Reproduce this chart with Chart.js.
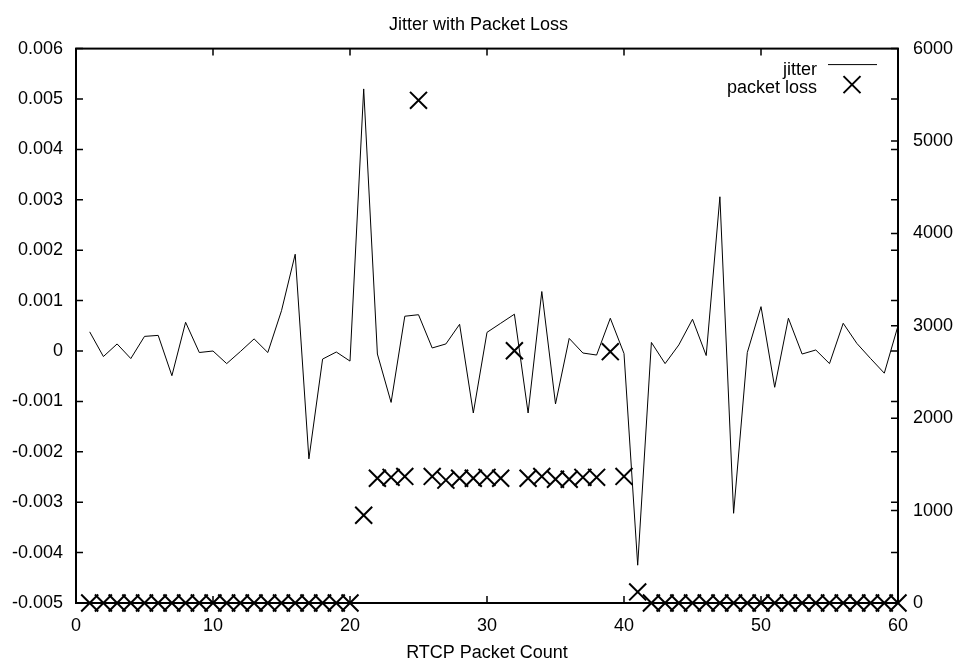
<!DOCTYPE html>
<html>
<head>
<meta charset="utf-8">
<title>Jitter with Packet Loss</title>
<script src="https://cdn.jsdelivr.net/npm/chart.js@4.4.1/dist/chart.umd.min.js"></script>
<style>
  body { margin: 0; background: #fff; }
  #wrap { width: 957px; height: 660px; position: relative; }
</style>
</head>
<body>
<div id="wrap"><canvas id="myChart"></canvas></div>
<script>
var counts = [1, 2, 3, 4, 5, 6, 7, 8, 9, 10,
  11, 12, 13, 14, 15, 16, 17, 18, 19, 20,
  21, 22, 23, 24, 25, 26, 27, 28, 29, 30,
  31, 32, 33, 34, 35, 36, 37, 38, 39, 40,
  41, 42, 43, 44, 45, 46, 47, 48, 49, 50,
  51, 52, 53, 54, 55, 56, 57, 58, 59, 60];

var jitter = [0.00038, -0.00011, 0.00014, -0.00015, 0.00029, 0.00031, -0.00049, 0.00057, -0.00003, 0.00000,
  -0.00025, -0.00001, 0.00024, -0.00003, 0.00080, 0.00192, -0.00214, -0.00016, -0.00002, -0.00020,
  0.00520, -0.00006, -0.00102, 0.00069, 0.00072, 0.00006, 0.00014, 0.00053, -0.00123, 0.00037,
  0.00055, 0.00073, -0.00123, 0.00118, -0.00105, 0.00025, -0.00004, -0.00008, 0.00065, -0.00005,
  -0.00425, 0.00017, -0.00025, 0.00012, 0.00063, -0.00009, 0.00306, -0.00322, -0.00003, 0.00088,
  -0.00072, 0.00065, -0.00006, 0.00002, -0.00025, 0.00055, 0.00015, -0.00015, -0.00044, 0.00050];

var packetLoss = [0, 0, 0, 0, 0, 0, 0, 0, 0, 0,
  0, 0, 0, 0, 0, 0, 0, 0, 0, 0,
  950, 1350, 1360, 1370, 5440, 1370, 1330, 1350, 1350, 1360,
  1350, 2730, 1350, 1370, 1340, 1340, 1360, 1360, 2720, 1370,
  120, 0, 0, 0, 0, 0, 0, 0, 0, 0,
  0, 0, 0, 0, 0, 0, 0, 0, 0, 0];

var labelFont = '"Liberation Sans", Arial, Helvetica, sans-serif';
Chart.defaults.font.family = labelFont;
Chart.defaults.font.size = 18;
Chart.defaults.color = '#000';

function points(ys) {
  var out = [];
  for (var i = 0; i < counts.length; i++) {
    out.push({ x: counts[i], y: ys[i] });
  }
  return out;
}

// gnuplot look: frame, inward ticks (mirrored), key in the top right corner
var gnuplotFrame = {
  id: 'gnuplotFrame',
  afterDatasetsDraw: function (chart) {
    var ctx = chart.ctx;
    var a = chart.chartArea;
    var sx = chart.scales.x, sy = chart.scales.y, sy2 = chart.scales.y2;
    var len = 7;
    ctx.save();
    ctx.strokeStyle = '#000';
    ctx.lineWidth = 1.5;
    ctx.beginPath();
    sx.ticks.forEach(function (t) {
      var px = sx.getPixelForValue(t.value);
      ctx.moveTo(px, a.bottom); ctx.lineTo(px, a.bottom - len);
      ctx.moveTo(px, a.top); ctx.lineTo(px, a.top + len);
    });
    sy.ticks.forEach(function (t) {
      var py = sy.getPixelForValue(t.value);
      ctx.moveTo(a.left, py); ctx.lineTo(a.left + len, py);
      ctx.moveTo(a.right, py); ctx.lineTo(a.right - len, py);
    });
    sy2.ticks.forEach(function (t) {
      var py = sy2.getPixelForValue(t.value);
      ctx.moveTo(a.right, py); ctx.lineTo(a.right - len, py);
    });
    ctx.stroke();
    ctx.lineWidth = 2;
    ctx.strokeRect(a.left, a.top, a.right - a.left, a.bottom - a.top);

    // key
    var textRight = a.right - 81;
    ctx.font = '18px ' + labelFont;
    ctx.fillStyle = '#000';
    ctx.textAlign = 'right';
    ctx.textBaseline = 'alphabetic';
    ctx.fillText(chart.data.datasets[1].label, textRight, a.top + 26);
    ctx.fillText(chart.data.datasets[0].label, textRight, a.top + 44);
    ctx.lineWidth = 1;
    ctx.beginPath();
    ctx.moveTo(a.right - 70, a.top + 16);
    ctx.lineTo(a.right - 21, a.top + 16);
    ctx.stroke();
    var cx = a.right - 46, cy = a.top + 36, h = 8.5;
    ctx.lineWidth = 2;
    ctx.beginPath();
    ctx.moveTo(cx - h, cy - h); ctx.lineTo(cx + h, cy + h);
    ctx.moveTo(cx + h, cy - h); ctx.lineTo(cx - h, cy + h);
    ctx.stroke();
    ctx.restore();
  }
};

var config = {
  type: 'line',
  data: {
    datasets: [{
      label: 'packet loss',
      data: points(packetLoss),
      yAxisID: 'y2',
      showLine: false,
      pointStyle: 'crossRot',
      pointRadius: 12,
      pointBorderWidth: 2,
      borderColor: '#000',
      backgroundColor: '#000',
      clip: false
    }, {
      label: 'jitter',
      data: points(jitter),
      yAxisID: 'y',
      borderColor: '#000',
      borderWidth: 1,
      pointRadius: 0,
      tension: 0,
      fill: false
    }]
  },
  options: {
    responsive: true,
    maintainAspectRatio: false,
    animation: false,
    events: [],
    layout: { padding: 0 },
    plugins: {
      legend: { display: false },
      tooltip: { enabled: false },
      title: {
        display: true,
        text: 'Jitter with Packet Loss',
        color: '#000',
        font: { size: 18, weight: 'normal' },
        padding: { top: 14, bottom: 13 }
      }
    },
    scales: {
      x: {
        type: 'linear',
        min: 0,
        max: 60,
        grid: { display: false, drawTicks: false },
        border: { display: false },
        ticks: { stepSize: 10, padding: 12 },
        title: {
          display: true,
          text: 'RTCP Packet Count',
          font: { size: 18, lineHeight: 1 },
          padding: { top: 0, bottom: -2 }
        },
        afterFit: function (scale) { scale.height = 57; }
      },
      y: {
        position: 'left',
        min: -0.005,
        max: 0.006,
        grid: { display: false, drawTicks: false },
        border: { display: false },
        ticks: {
          stepSize: 0.001,
          padding: 13,
          callback: function (v) { return String(Number(v.toFixed(3))); }
        },
        afterFit: function (scale) { scale.width = 76; }
      },
      y2: {
        position: 'right',
        min: 0,
        max: 6000,
        grid: { display: false, drawTicks: false },
        border: { display: false },
        ticks: {
          stepSize: 1000,
          padding: 15,
          callback: function (v) { return String(v); }
        },
        afterFit: function (scale) { scale.width = 59; }
      }
    }
  },
  plugins: [gnuplotFrame]
};

var myChart = new Chart(document.getElementById('myChart'), config);
</script>
</body>
</html>
